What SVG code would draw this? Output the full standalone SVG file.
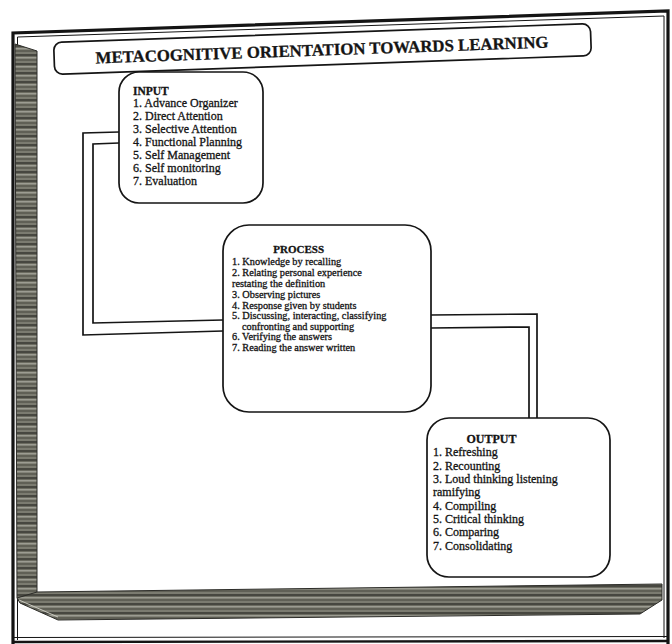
<svg xmlns="http://www.w3.org/2000/svg" width="672" height="644" viewBox="0 0 672 644">
  <defs>
    <style>
      .box { fill: #ffffff; stroke: #151515; stroke-width: 1.7; }
      .wire { fill: none; stroke: #151515; stroke-width: 1.7; stroke-linejoin: miter; }
      .txt { font-family: "Liberation Serif", "Times New Roman", serif; fill: #141414; stroke: #141414; stroke-width: 0.3; }
      .head { font-weight: bold; }
      .frame { fill: none; stroke: #141414; }
    </style>
    <!-- striped grey texture for the shaded frame bars -->
    <pattern id="stripes" patternUnits="userSpaceOnUse" width="6" height="9">
      <rect width="6" height="9" fill="#6b6b60"/>
      <rect y="0" width="6" height="2" fill="#474740"/>
      <rect y="3" width="6" height="1.5" fill="#9c9c92"/>
      <rect y="5.5" width="6" height="1" fill="#54544b"/>
      <rect y="7.5" width="6" height="1" fill="#8a8a80"/>
    </pattern>
  </defs>

  <rect width="672" height="644" fill="#ffffff"/>

  <!-- page frame -->
  <g id="frame">
    <path class="frame" d="M13,644 V33 L668,11 V644" stroke-width="3.2"/>
    <path class="frame" d="M17.5,640 V37 L664,16 V638" stroke-width="1"/>
    <line class="frame" x1="13" y1="637.5" x2="668" y2="636.5" stroke-width="1"/>
    <line class="frame" x1="13" y1="642" x2="668" y2="641" stroke-width="2.4"/>
    <!-- shaded left bar -->
    <polygon points="15,44 37,51 37,593 17,598" fill="url(#stripes)" stroke="#2c2c28" stroke-width="1"/>
    <!-- shaded bottom bar with bevelled ends -->
    <polygon points="37,592 662,584 662,600 640,614 58,620 20,603 17,598" fill="url(#stripes)" stroke="#2c2c28" stroke-width="1"/>
    <line x1="19" y1="600" x2="58" y2="617" stroke="#c8c8be" stroke-width="1"/>
  </g>

  <!-- title banner -->
  <g id="title" transform="rotate(-2 322 49)">
    <rect class="box" x="54" y="33" width="537" height="32" rx="8"/>
    <text class="txt head" x="322" y="55.5" font-size="16.8" text-anchor="middle">METACOGNITIVE ORIENTATION TOWARDS LEARNING</text>
  </g>

  <!-- connectors -->
  <g id="connectors">
    <polyline class="wire" points="119,132 83,133 83,335 223,331"/>
    <polyline class="wire" points="119,143 93,144 93,323 223,320"/>
    <polyline class="wire" points="431,315 537,314 537,418"/>
    <polyline class="wire" points="431,328 529,327 529,418"/>
  </g>

  <!-- input node -->
  <g id="input">
    <rect class="box" x="119" y="72" width="144" height="131" rx="20"/>
    <text class="txt" font-size="12">
      <tspan class="head" x="133" y="95" font-size="11.5">INPUT</tspan>
      <tspan x="133" y="107">1. Advance Organizer</tspan>
      <tspan x="133" y="120">2. Direct Attention</tspan>
      <tspan x="133" y="133">3. Selective Attention</tspan>
      <tspan x="133" y="146">4. Functional Planning</tspan>
      <tspan x="133" y="159">5. Self Management</tspan>
      <tspan x="133" y="172">6. Self monitoring</tspan>
      <tspan x="133" y="185">7. Evaluation</tspan>
    </text>
  </g>

  <!-- process node -->
  <g id="process">
    <rect class="box" x="223" y="225" width="208" height="187" rx="26"/>
    <text class="txt" font-size="10.3">
      <tspan class="head" x="300" y="253" text-anchor="middle" font-size="11">PROCESS</tspan>
      <tspan x="232" y="265">1. Knowledge by recalling</tspan>
      <tspan x="232" y="276">2. Relating personal experience</tspan>
      <tspan x="232" y="287">restating the definition</tspan>
      <tspan x="232" y="298">3. Observing pictures</tspan>
      <tspan x="232" y="308.5">4. Response given by students</tspan>
      <tspan x="232" y="319">5. Discussing, interacting, classifying</tspan>
      <tspan x="242" y="329.5">confronting and supporting</tspan>
      <tspan x="232" y="340">6. Verifying the answers</tspan>
      <tspan x="232" y="350.5">7. Reading the answer written</tspan>
    </text>
  </g>

  <!-- output node -->
  <g id="output">
    <rect class="box" x="427" y="418" width="183" height="159" rx="22"/>
    <text class="txt" font-size="12">
      <tspan class="head" x="493" y="443" text-anchor="middle">OUTPUT</tspan>
      <tspan x="433" y="456">1. Refreshing</tspan>
      <tspan x="433" y="469.5">2. Recounting</tspan>
      <tspan x="433" y="483">3. Loud thinking listening</tspan>
      <tspan x="433" y="496">ramifying</tspan>
      <tspan x="433" y="509.5">4. Compiling</tspan>
      <tspan x="433" y="523">5. Critical thinking</tspan>
      <tspan x="433" y="536">6. Comparing</tspan>
      <tspan x="433" y="549.5">7. Consolidating</tspan>
    </text>
  </g>
</svg>
